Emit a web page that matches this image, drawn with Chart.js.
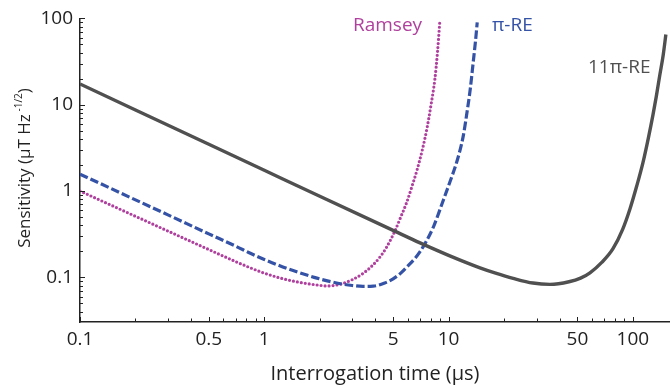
<!DOCTYPE html>
<html>
<head>
<meta charset="utf-8">
<script src="https://cdn.jsdelivr.net/npm/chart.js@4"></script>
<style>
  html, body { margin: 0; padding: 0; background: #fff; }
  #wrap { width: 670px; height: 390px; }
</style>
</head>
<body>
<div id="wrap"><canvas id="sens" width="670" height="390"></canvas></div>
<script>
// interrogation time (us) / sensitivity (uT Hz^-1/2)
const grayT = [0.1, 0.2, 0.5, 1, 2, 5, 7, 10, 14.8, 18, 22.4, 28.7, 35.5, 45, 52, 58.5, 68, 78, 88, 96.4, 105, 113.5, 121, 128.6, 134, 140, 146, 151];
const grayS = [17.4, 8.7, 3.48, 1.74, 0.87, 0.35, 0.251, 0.18, 0.129, 0.112, 0.0975, 0.086, 0.083, 0.089, 0.098, 0.113, 0.15, 0.215, 0.36, 0.62, 1.15, 2.15, 4.0, 7.67, 12.5, 22.1, 37.5, 65];

const ramseyT = [0.1, 0.2, 0.3, 0.5, 0.7, 0.84, 1.0, 1.26, 1.5, 1.93, 2.2, 2.6, 3.0, 3.43, 3.9, 4.25, 4.6, 5.12, 5.5, 5.94, 6.3, 6.74, 7.2, 7.63, 8.0, 8.43, 8.7, 8.97];
const ramseyS = [1.0, 0.51, 0.344, 0.21, 0.152, 0.129, 0.112, 0.0964, 0.0887, 0.0816, 0.0795, 0.0835, 0.094, 0.111, 0.14, 0.173, 0.222, 0.347, 0.5, 0.75, 1.1, 1.75, 3.0, 5.3, 9.5, 20, 40, 95];

const piT = [0.1, 0.2, 0.3, 0.5, 0.7, 0.84, 1.0, 1.26, 1.5, 1.93, 2.3, 2.66, 3.0, 3.43, 3.9, 4.5, 5.0, 5.5, 6.0, 6.6, 7.0, 7.45, 8.3, 9.33, 10.2, 11.1, 12.0, 12.6, 13.1, 13.6, 14.0, 14.3];
const piS = [1.57, 0.79, 0.53, 0.319, 0.2295, 0.19, 0.161, 0.132, 0.116, 0.098, 0.089, 0.0835, 0.0805, 0.0785, 0.079, 0.086, 0.096, 0.112, 0.135, 0.168, 0.199, 0.246, 0.39, 0.767, 1.3, 2.21, 4.3, 8.3, 15, 31, 55, 90];

// axis ticks
const xLabels = [0.1, 0.5, 1, 5, 10, 50, 100];
const xTicks = [0.1, 0.2, 0.3, 0.4, 0.5, 0.6, 0.7, 0.8, 0.9, 1, 2, 3, 4, 5, 6, 7, 8, 9, 10, 20, 30, 40, 50, 60, 70, 80, 90, 100];
const yLabels = [0.1, 1, 10, 100];
const yTicks = [0.04, 0.05, 0.06, 0.07, 0.08, 0.09, 0.1, 0.2, 0.3, 0.4, 0.5, 0.6, 0.7, 0.8, 0.9, 1, 2, 3, 4, 5, 6, 7, 8, 9, 10, 20, 30, 40, 50, 60, 70, 80, 90, 100];

const FONT = "'Open Sans', 'DejaVu Sans', sans-serif";
const GRAY = "#505050", MAGENTA = "#b0409e", BLUE = "#3553a6";

function pts(xs, ys) {
  return xs.map((x, i) => ({ x: x, y: ys[i] }));
}

// inward tick marks + text that Chart.js can't lay out by itself
const decorPlugin = {
  id: "decor",
  afterDraw(chart) {
    const ctx = chart.ctx;
    const area = chart.chartArea;
    const xs = chart.scales.x, ys = chart.scales.y;
    ctx.save();
    ctx.strokeStyle = "#222";
    ctx.lineWidth = 1;
    xTicks.forEach((v) => {
      const px = Math.round(xs.getPixelForValue(v)) + 0.5;
      const len = xLabels.includes(v) ? 5 : 3.5;
      ctx.beginPath();
      ctx.moveTo(px, area.bottom);
      ctx.lineTo(px, area.bottom - len);
      ctx.stroke();
    });
    yTicks.forEach((v) => {
      const py = Math.round(ys.getPixelForValue(v)) + 0.5;
      const len = yLabels.includes(v) ? 5 : 3;
      ctx.beginPath();
      ctx.moveTo(area.left, py);
      ctx.lineTo(area.left + len, py);
      ctx.stroke();
    });

    // series labels
    ctx.textBaseline = "middle";
    ctx.textAlign = "left";
    ctx.font = "19px " + FONT;
    ctx.fillStyle = MAGENTA;
    ctx.fillText("Ramsey", 353, 26);
    ctx.fillStyle = BLUE;
    ctx.fillText("\u03c0-RE", 492, 26);
    ctx.fillStyle = GRAY;
    ctx.fillText("11\u03c0-RE", 588, 68);

    // y title with superscript
    ctx.fillStyle = "#222";
    ctx.translate(25, 168);
    ctx.rotate(-Math.PI / 2);
    const main = "Sensitivity (\u03bcT Hz";
    const sup = " -1/2";
    const tail = ")";
    ctx.font = "17px " + FONT;
    const w1 = ctx.measureText(main).width;
    const w3 = ctx.measureText(tail).width;
    ctx.font = "10px " + FONT;
    const w2 = ctx.measureText(sup).width;
    let x0 = -(w1 + w2 + w3) / 2;
    ctx.font = "17px " + FONT;
    ctx.fillText(main, x0, 0);
    ctx.font = "10px " + FONT;
    ctx.fillText(sup, x0 + w1, -6);
    ctx.font = "17px " + FONT;
    ctx.fillText(tail, x0 + w1 + w2, 0);
    ctx.restore();
  },
};

new Chart(document.getElementById("sens").getContext("2d"), {
  type: "line",
  data: {
    datasets: [
      {
        label: "11\u03c0-RE",
        data: pts(grayT, grayS),
        borderColor: GRAY,
        borderWidth: 3.4,
        pointRadius: 0,
        cubicInterpolationMode: "monotone",
      },
      {
        label: "\u03c0-RE",
        data: pts(piT, piS),
        borderColor: BLUE,
        borderWidth: 3.2,
        borderDash: [8.5, 3],
        pointRadius: 0,
        cubicInterpolationMode: "monotone",
      },
      {
        label: "Ramsey",
        data: pts(ramseyT, ramseyS),
        borderColor: MAGENTA,
        borderWidth: 3.2,
        borderDash: [0, 4],
        borderCapStyle: "round",
        pointRadius: 0,
        cubicInterpolationMode: "monotone",
      },
    ],
  },
  options: {
    responsive: false,
    animation: false,
    devicePixelRatio: 1,
    layout: { padding: { top: 16, right: 0, left: 0, bottom: 0 } },
    plugins: { legend: { display: false }, tooltip: { enabled: false } },
    scales: {
      x: {
        type: "logarithmic",
        min: 0.1,
        max: 159,
        afterBuildTicks: (s) => { s.ticks = xLabels.map((v) => ({ value: v })); },
        afterFit: (s) => { s.height = 68; },
        grid: { display: false, drawTicks: false },
        border: { display: true, color: "#222", width: 1.5 },
        ticks: {
          autoSkip: false,
          maxRotation: 0,
          padding: 6,
          color: "#222",
          font: { family: FONT, size: 19 },
          callback: (v) => String(v),
        },
        title: {
          display: true,
          text: "Interrogation time (\u03bcs)",
          color: "#222",
          font: { family: FONT, size: 20 },
          padding: { top: 2 },
        },
      },
      y: {
        type: "logarithmic",
        min: 0.0304,
        max: 100,
        afterBuildTicks: (s) => { s.ticks = yLabels.map((v) => ({ value: v })); },
        afterFit: (s) => { s.width = 80; },
        grid: { display: false, drawTicks: false },
        border: { display: true, color: "#222", width: 1.5 },
        ticks: {
          autoSkip: false,
          padding: 7,
          color: "#222",
          font: { family: FONT, size: 19 },
          callback: (v) => String(v),
        },
      },
    },
  },
  plugins: [decorPlugin],
});
</script>
</body>
</html>
